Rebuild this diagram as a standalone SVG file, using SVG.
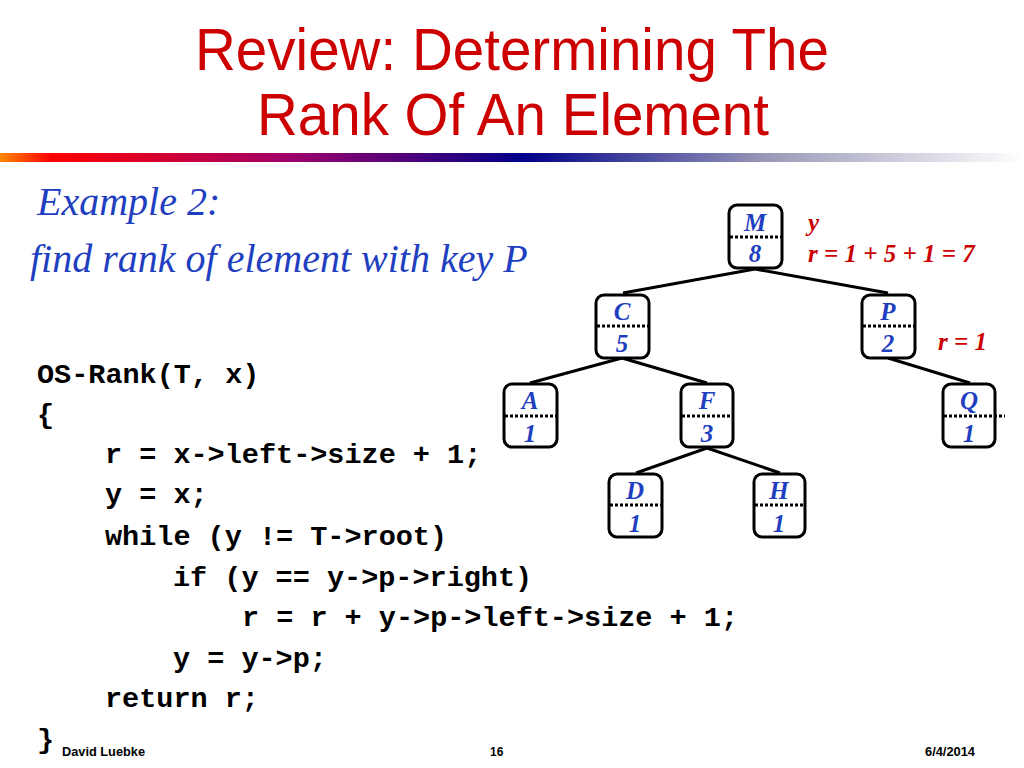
<svg xmlns="http://www.w3.org/2000/svg" width="1024" height="768" viewBox="0 0 1024 768">
<defs>
<linearGradient id="bar" x1="0" y1="0" x2="1" y2="0">
<stop offset="0" stop-color="#ff8800"/>
<stop offset="0.05" stop-color="#ff0000"/>
<stop offset="0.28" stop-color="#a0006a"/>
<stop offset="0.51" stop-color="#00008a"/>
<stop offset="0.75" stop-color="#9a9ab8"/>
<stop offset="1" stop-color="#ffffff"/>
</linearGradient>
<style>
.title{font-family:"Liberation Sans",Arial,sans-serif;font-size:60px;fill:#cc0000;text-anchor:middle}
.ital{font-family:"Liberation Serif","Times New Roman",serif;font-style:italic;font-size:40px;fill:#1f3fc0}
.code{font-family:"Liberation Mono","Courier New",monospace;font-weight:bold;font-size:28.5px;fill:#000;white-space:pre}
.box{fill:#fff;stroke:#000;stroke-width:3}
.dot{stroke:#000;stroke-width:3;stroke-dasharray:3 2}
.key{font-family:"Liberation Serif","Times New Roman",serif;font-style:italic;font-weight:bold;font-size:25px;fill:#1f3fc0;text-anchor:middle}
.ann{font-family:"Liberation Serif","Times New Roman",serif;font-style:italic;font-weight:bold;font-size:25px;fill:#cc0000}
.foot{font-family:"Liberation Sans",Arial,sans-serif;font-weight:bold;font-size:12px;fill:#000}
.edge{stroke:#000;stroke-width:3;fill:none}
</style>
</defs>
<rect width="1024" height="768" fill="#fff"/>
<text class="title" x="512" y="70" textLength="634" lengthAdjust="spacingAndGlyphs">Review: Determining The</text>
<text class="title" x="513" y="135" textLength="512" lengthAdjust="spacingAndGlyphs">Rank Of An Element</text>
<rect x="0" y="153" width="1024" height="9" fill="url(#bar)"/>
<text class="ital" x="37" y="215">Example 2:</text>
<text class="ital" x="30" y="272">find rank of element with key P</text>
<g id="code">
<text class="code" x="37" y="383">OS-Rank(T, x)</text>
<text class="code" x="37" y="423">{</text>
<text class="code" x="105" y="463">r = x-&gt;left-&gt;size + 1;</text>
<text class="code" x="105" y="503">y = x;</text>
<text class="code" x="105" y="545">while (y != T-&gt;root)</text>
<text class="code" x="173" y="586">if (y == y-&gt;p-&gt;right)</text>
<text class="code" x="242" y="626">r = r + y-&gt;p-&gt;left-&gt;size + 1;</text>
<text class="code" x="173" y="667">y = y-&gt;p;</text>
<text class="code" x="105" y="707">return r;</text>
<text class="code" x="37" y="748">}</text>
</g>
<g id="connectors">
<line class="edge" x1="755" y1="269" x2="623" y2="293"/>
<line class="edge" x1="755" y1="269" x2="888" y2="293"/>
<line class="edge" x1="622" y1="358" x2="530" y2="383"/>
<line class="edge" x1="622" y1="358" x2="707" y2="383"/>
<line class="edge" x1="888" y1="358" x2="970" y2="383"/>
<line class="edge" x1="707" y1="448" x2="636" y2="473"/>
<line class="edge" x1="707" y1="448" x2="780" y2="473"/>
</g>
<g id="node-M"><rect class="box" x="729" y="205" width="53" height="63" rx="8"/><line class="dot" x1="730" y1="237" x2="781" y2="237"/><text class="key" x="755" y="231">M</text><text class="key" x="755" y="262">8</text></g>
<g id="node-C"><rect class="box" x="596" y="295" width="53" height="63" rx="8"/><line class="dot" x1="597" y1="326" x2="648" y2="326"/><text class="key" x="622" y="320">C</text><text class="key" x="622" y="352">5</text></g>
<g id="node-P"><rect class="box" x="862" y="295" width="53" height="63" rx="8"/><line class="dot" x1="863" y1="326" x2="914" y2="326"/><text class="key" x="888" y="320">P</text><text class="key" x="888" y="352">2</text></g>
<g id="node-A"><rect class="box" x="504" y="384" width="53" height="63" rx="8"/><line class="dot" x1="505" y1="416" x2="556" y2="416"/><text class="key" x="530" y="409">A</text><text class="key" x="530" y="442">1</text></g>
<g id="node-F"><rect class="box" x="681" y="384" width="52" height="63" rx="8"/><line class="dot" x1="682" y1="416" x2="732" y2="416"/><text class="key" x="707" y="409">F</text><text class="key" x="707" y="442">3</text></g>
<g id="node-Q"><rect class="box" x="943" y="384" width="52" height="63" rx="8"/><line class="dot" x1="944" y1="416" x2="1005" y2="416"/><text class="key" x="969" y="409">Q</text><text class="key" x="969" y="442">1</text></g>
<g id="node-D"><rect class="box" x="609" y="474" width="53" height="63" rx="8"/><line class="dot" x1="610" y1="505" x2="661" y2="505"/><text class="key" x="635" y="499">D</text><text class="key" x="635" y="532">1</text></g>
<g id="node-H"><rect class="box" x="754" y="474" width="51" height="63" rx="8"/><line class="dot" x1="755" y1="505" x2="804" y2="505"/><text class="key" x="779" y="499">H</text><text class="key" x="779" y="532">1</text></g>
<text class="ann" x="808" y="231">y</text>
<text class="ann" x="808" y="262">r = 1 + 5 + 1 = 7</text>
<text class="ann" x="938" y="350">r = 1</text>
<text class="foot" x="62" y="756" textLength="83" lengthAdjust="spacingAndGlyphs">David Luebke</text>
<text class="foot" x="490" y="756">16</text>
<text class="foot" x="925" y="756" textLength="50" lengthAdjust="spacingAndGlyphs">6/4/2014</text>
</svg>
